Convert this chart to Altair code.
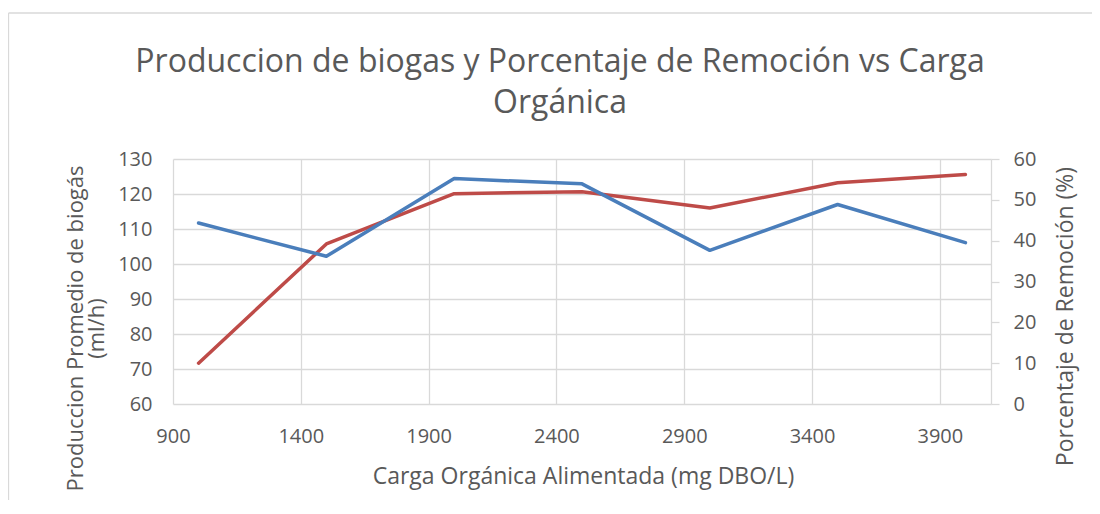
import altair as alt
import pandas as pd

# ---- data ----
carga = [1000, 1500, 2000, 2500, 3000, 3500, 4000]
biogas = [111.7, 102.2, 124.4, 122.9, 103.9, 117.0, 106.1]
remocion = [10.0, 39.2, 51.5, 52.0, 48.0, 54.2, 56.2]

x_ticks = [900, 1400, 1900, 2400, 2900, 3400, 3900]
left_ticks = [60, 70, 80, 90, 100, 110, 120, 130]
right_ticks = [0, 10, 20, 30, 40, 50, 60]

title_lines = ["Produccion de biogas y Porcentaje de Remoción vs Carga", "Orgánica"]
x_title = "Carga Orgánica Alimentada (mg DBO/L)"
left_title = ["Produccion Promedio de biogás", "(ml/h)"]
right_title = "Porcentaje de Remoción (%)"

FONT = "Open Sans"
TEXT = "#595959"
GRID = "#D9D9D9"
BLUE = "#4A7EBB"
RED = "#BE4B48"

W, H = 818, 245
PAD = {"left": 165, "top": 151, "right": 101, "bottom": 96}

df = pd.DataFrame({"carga": carga, "biogas": biogas, "remocion": remocion})
one = pd.DataFrame({"a": [0]})

x_enc = alt.X(
    "carga:Q",
    scale=alt.Scale(domain=[900, 4100], nice=False, zero=False),
    axis=alt.Axis(
        values=x_ticks, format="d", title=x_title, grid=True, gridColor=GRID, gridWidth=1.3,
        ticks=False, domain=False, labelPadding=22, labelFlush=False, labelOverlap=False,
        labelFontSize=20, labelColor=TEXT, labelFont=FONT,
        titleFont=FONT, titleFontSize=23, titleColor=TEXT, titleFontWeight="normal",
        titleX=410, titleY=79, titleAlign="center", titleBaseline="alphabetic",
    ),
)

blue = alt.Chart(df).mark_line(
    color=BLUE, strokeWidth=3.5, strokeJoin="round", strokeCap="round"
).encode(
    x=x_enc,
    y=alt.Y(
        "biogas:Q",
        scale=alt.Scale(domain=[60, 130], nice=False, zero=False),
        axis=alt.Axis(
            orient="left", values=left_ticks, format="d", title=left_title,
            grid=True, gridColor=GRID, gridWidth=1.3, ticks=False, domain=False,
            labelPadding=21, labelFontSize=20, labelColor=TEXT, labelFont=FONT,
            titleFont=FONT, titleFontSize=22, titleColor=TEXT, titleFontWeight="normal",
            titleAngle=270, titleAlign="center", titleBaseline="middle",
            titleX=-98, titleY=169, titleLineHeight=21,
        ),
    ),
)

red = alt.Chart(df).mark_line(
    color=RED, strokeWidth=3.5, strokeJoin="round", strokeCap="round"
).encode(
    x=x_enc,
    y=alt.Y(
        "remocion:Q",
        scale=alt.Scale(domain=[0, 60], nice=False, zero=False),
        axis=alt.Axis(
            orient="right", values=right_ticks, format="d", title=right_title,
            grid=False, ticks=True, tickSize=8, tickColor=GRID, tickWidth=1.3,
            domain=True, domainColor=GRID, domainWidth=1.3,
            labelPadding=14, labelFontSize=20, labelColor=TEXT, labelFont=FONT,
            titleFont=FONT, titleFontSize=23, titleColor=TEXT, titleFontWeight="normal",
            titleAngle=270, titleAlign="center", titleBaseline="middle",
            titleX=74, titleY=157,
        ),
    ),
)

frame_top = alt.Chart(one).mark_rule(color=GRID, strokeWidth=1.3).encode(
    x=alt.value(-164.5), x2=alt.value(W + PAD["right"]), y=alt.value(-146)
)
frame_left = alt.Chart(one).mark_rule(color=GRID, strokeWidth=1.3).encode(
    x=alt.value(-164.5), y=alt.value(-146), y2=alt.value(H + PAD["bottom"])
)

title = alt.Chart(one).mark_text(
    text=title_lines, font=FONT, fontSize=32, color=TEXT, align="center",
    baseline="alphabetic", lineHeight=41,
).encode(x=alt.value(387), y=alt.value(-87))

chart = alt.layer(frame_top, frame_left, title, red, blue).resolve_scale(
    y="independent"
).properties(
    width=W, height=H,
    padding=PAD,
    autosize=alt.AutoSizeParams(type="none"),
    background="white",
).configure_view(strokeWidth=0)

chart.save("out.html", embed_options={"renderer": "svg", "actions": False})
